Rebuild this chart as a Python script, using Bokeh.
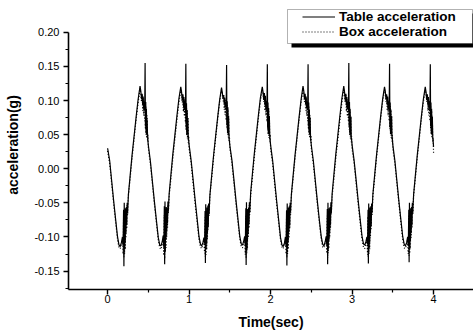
from bokeh.plotting import figure
from bokeh.models import Range1d, FixedTicker, Legend, LegendItem, BoxAnnotation
from bokeh.embed import file_html
from bokeh.resources import INLINE

# ---------------- data ----------------
time_s = [
    0.000, 0.025, 0.050, 0.075, 0.100, 0.122, 0.140, 0.155, 0.170, 0.182, 0.190, 0.196, 0.200, 0.204, 0.208, 0.212,
    0.216, 0.220, 0.225, 0.230, 0.235, 0.240, 0.245, 0.255, 0.275, 0.300, 0.325, 0.350, 0.375, 0.398, 0.408, 0.416,
    0.424, 0.430, 0.436, 0.442, 0.448, 0.455, 0.460, 0.464, 0.468, 0.472, 0.476, 0.480, 0.485, 0.490, 0.495,
    0.500, 0.525, 0.550, 0.575, 0.600, 0.622, 0.640, 0.655, 0.670, 0.682, 0.690, 0.696, 0.700, 0.704, 0.708, 0.712,
    0.716, 0.720, 0.725, 0.730, 0.735, 0.740, 0.745, 0.755, 0.775, 0.800, 0.825, 0.850, 0.875, 0.898, 0.908, 0.916,
    0.924, 0.930, 0.936, 0.942, 0.948, 0.955, 0.960, 0.964, 0.968, 0.972, 0.976, 0.980, 0.985, 0.990, 0.995,
    1.000, 1.025, 1.050, 1.075, 1.100, 1.122, 1.140, 1.155, 1.170, 1.182, 1.190, 1.196, 1.200, 1.204, 1.208, 1.212,
    1.216, 1.220, 1.225, 1.230, 1.235, 1.240, 1.245, 1.255, 1.275, 1.300, 1.325, 1.350, 1.375, 1.398, 1.408, 1.416,
    1.424, 1.430, 1.436, 1.442, 1.448, 1.455, 1.460, 1.464, 1.468, 1.472, 1.476, 1.480, 1.485, 1.490, 1.495,
    1.500, 1.525, 1.550, 1.575, 1.600, 1.622, 1.640, 1.655, 1.670, 1.682, 1.690, 1.696, 1.700, 1.704, 1.708, 1.712,
    1.716, 1.720, 1.725, 1.730, 1.735, 1.740, 1.745, 1.755, 1.775, 1.800, 1.825, 1.850, 1.875, 1.898, 1.908, 1.916,
    1.924, 1.930, 1.936, 1.942, 1.948, 1.955, 1.960, 1.964, 1.968, 1.972, 1.976, 1.980, 1.985, 1.990, 1.995,
    2.000, 2.025, 2.050, 2.075, 2.100, 2.122, 2.140, 2.155, 2.170, 2.182, 2.190, 2.196, 2.200, 2.204, 2.208, 2.212,
    2.216, 2.220, 2.225, 2.230, 2.235, 2.240, 2.245, 2.255, 2.275, 2.300, 2.325, 2.350, 2.375, 2.398, 2.408, 2.416,
    2.424, 2.430, 2.436, 2.442, 2.448, 2.455, 2.460, 2.464, 2.468, 2.472, 2.476, 2.480, 2.485, 2.490, 2.495,
    2.500, 2.525, 2.550, 2.575, 2.600, 2.622, 2.640, 2.655, 2.670, 2.682, 2.690, 2.696, 2.700, 2.704, 2.708, 2.712,
    2.716, 2.720, 2.725, 2.730, 2.735, 2.740, 2.745, 2.755, 2.775, 2.800, 2.825, 2.850, 2.875, 2.898, 2.908, 2.916,
    2.924, 2.930, 2.936, 2.942, 2.948, 2.955, 2.960, 2.964, 2.968, 2.972, 2.976, 2.980, 2.985, 2.990, 2.995,
    3.000, 3.025, 3.050, 3.075, 3.100, 3.122, 3.140, 3.155, 3.170, 3.182, 3.190, 3.196, 3.200, 3.204, 3.208, 3.212,
    3.216, 3.220, 3.225, 3.230, 3.235, 3.240, 3.245, 3.255, 3.275, 3.300, 3.325, 3.350, 3.375, 3.398, 3.408, 3.416,
    3.424, 3.430, 3.436, 3.442, 3.448, 3.455, 3.460, 3.464, 3.468, 3.472, 3.476, 3.480, 3.485, 3.490, 3.495,
    3.500, 3.525, 3.550, 3.575, 3.600, 3.622, 3.640, 3.655, 3.670, 3.682, 3.690, 3.696, 3.700, 3.704, 3.708, 3.712,
    3.716, 3.720, 3.725, 3.730, 3.735, 3.740, 3.745, 3.755, 3.775, 3.800, 3.825, 3.850, 3.875, 3.898, 3.908, 3.916,
    3.924, 3.930, 3.936, 3.942, 3.948, 3.955, 3.960, 3.964, 3.968, 3.972, 3.976, 3.980, 3.985, 3.990, 3.995,
    4.000,
]

table_acc = [
    0.030, 0.012, -0.018, -0.048, -0.076, -0.100, -0.112, -0.114, -0.108, -0.100, -0.112, -0.060, -0.143, -0.050, -0.118, -0.062,
    -0.108, -0.058, -0.095, -0.056, -0.082, -0.050, -0.065, -0.038, -0.012, 0.020, 0.048, 0.076, 0.102, 0.121, 0.113, 0.102,
    0.110, 0.094, 0.106, 0.088, 0.098, 0.085, 0.155, 0.062, 0.098, 0.052, 0.088, 0.050, 0.072, 0.048, 0.040,
    0.034, 0.011, -0.019, -0.049, -0.077, -0.101, -0.112, -0.113, -0.107, -0.098, -0.115, -0.055, -0.140, -0.048, -0.120, -0.060,
    -0.104, -0.056, -0.092, -0.058, -0.080, -0.048, -0.062, -0.037, -0.011, 0.021, 0.049, 0.077, 0.103, 0.120, 0.112, 0.100,
    0.109, 0.092, 0.105, 0.086, 0.100, 0.082, 0.154, 0.060, 0.096, 0.050, 0.086, 0.052, 0.074, 0.047, 0.041,
    0.035, 0.012, -0.017, -0.047, -0.075, -0.100, -0.111, -0.113, -0.108, -0.101, -0.110, -0.062, -0.138, -0.052, -0.116, -0.064,
    -0.110, -0.057, -0.094, -0.054, -0.084, -0.051, -0.066, -0.039, -0.013, 0.019, 0.047, 0.075, 0.101, 0.119, 0.111, 0.103,
    0.108, 0.096, 0.104, 0.090, 0.097, 0.087, 0.152, 0.064, 0.099, 0.054, 0.090, 0.049, 0.076, 0.045, 0.040,
    0.034, 0.013, -0.016, -0.046, -0.074, -0.099, -0.110, -0.112, -0.106, -0.099, -0.113, -0.058, -0.141, -0.049, -0.119, -0.061,
    -0.106, -0.059, -0.096, -0.057, -0.081, -0.049, -0.064, -0.036, -0.010, 0.022, 0.050, 0.078, 0.104, 0.120, 0.112, 0.101,
    0.111, 0.093, 0.107, 0.087, 0.099, 0.084, 0.153, 0.061, 0.097, 0.051, 0.089, 0.051, 0.077, 0.046, 0.041,
    0.035, 0.012, -0.018, -0.048, -0.076, -0.101, -0.112, -0.114, -0.109, -0.100, -0.114, -0.061, -0.142, -0.051, -0.117, -0.063,
    -0.107, -0.057, -0.093, -0.055, -0.083, -0.050, -0.063, -0.038, -0.012, 0.020, 0.048, 0.076, 0.102, 0.121, 0.113, 0.102,
    0.110, 0.095, 0.106, 0.089, 0.098, 0.086, 0.153, 0.063, 0.097, 0.053, 0.087, 0.050, 0.075, 0.047, 0.040,
    0.034, 0.011, -0.019, -0.049, -0.077, -0.100, -0.111, -0.113, -0.107, -0.099, -0.112, -0.059, -0.140, -0.050, -0.118, -0.062,
    -0.105, -0.058, -0.094, -0.056, -0.082, -0.049, -0.065, -0.037, -0.011, 0.021, 0.049, 0.077, 0.103, 0.121, 0.112, 0.100,
    0.110, 0.093, 0.105, 0.088, 0.099, 0.085, 0.155, 0.062, 0.098, 0.052, 0.088, 0.050, 0.076, 0.046, 0.041,
    0.035, 0.012, -0.017, -0.047, -0.075, -0.099, -0.110, -0.112, -0.107, -0.100, -0.111, -0.060, -0.139, -0.051, -0.116, -0.063,
    -0.108, -0.057, -0.095, -0.055, -0.083, -0.051, -0.064, -0.038, -0.012, 0.020, 0.048, 0.076, 0.102, 0.120, 0.113, 0.102,
    0.109, 0.094, 0.106, 0.087, 0.098, 0.086, 0.154, 0.061, 0.097, 0.052, 0.087, 0.051, 0.077, 0.047, 0.042,
    0.035, 0.012, -0.018, -0.048, -0.076, -0.100, -0.111, -0.113, -0.108, -0.100, -0.113, -0.060, -0.137, -0.050, -0.117, -0.062,
    -0.106, -0.058, -0.094, -0.056, -0.082, -0.050, -0.064, -0.038, -0.012, 0.020, 0.048, 0.076, 0.102, 0.120, 0.112, 0.101,
    0.109, 0.094, 0.105, 0.088, 0.099, 0.085, 0.153, 0.062, 0.097, 0.052, 0.088, 0.050, 0.076, 0.046, 0.040,
    0.032,
]

box_acc = [
    0.026, 0.008, -0.022, -0.052, -0.080, -0.104, -0.116, -0.117, -0.110, -0.104, -0.125, -0.070, -0.130, -0.065, -0.125, -0.070,
    -0.118, -0.062, -0.102, -0.060, -0.088, -0.052, -0.068, -0.040, -0.016, 0.016, 0.044, 0.072, 0.098, 0.116, 0.110, 0.098,
    0.108, 0.085, 0.104, 0.078, 0.100, 0.070, 0.096, 0.058, 0.092, 0.050, 0.086, 0.045, 0.078, 0.040, 0.050,
    0.030, 0.007, -0.023, -0.053, -0.081, -0.105, -0.116, -0.118, -0.111, -0.103, -0.127, -0.068, -0.132, -0.066, -0.123, -0.072,
    -0.116, -0.060, -0.100, -0.062, -0.086, -0.053, -0.066, -0.041, -0.017, 0.015, 0.043, 0.071, 0.097, 0.115, 0.109, 0.097,
    0.107, 0.084, 0.103, 0.077, 0.099, 0.068, 0.095, 0.056, 0.090, 0.049, 0.085, 0.044, 0.076, 0.038, 0.048,
    0.029, 0.008, -0.022, -0.052, -0.080, -0.104, -0.115, -0.117, -0.110, -0.104, -0.124, -0.071, -0.129, -0.064, -0.126, -0.069,
    -0.119, -0.063, -0.103, -0.059, -0.089, -0.051, -0.069, -0.040, -0.016, 0.016, 0.044, 0.072, 0.098, 0.116, 0.110, 0.099,
    0.108, 0.086, 0.104, 0.079, 0.101, 0.071, 0.097, 0.059, 0.093, 0.051, 0.087, 0.046, 0.079, 0.041, 0.049,
    0.030, 0.009, -0.021, -0.051, -0.079, -0.103, -0.114, -0.116, -0.109, -0.103, -0.126, -0.069, -0.131, -0.066, -0.124, -0.071,
    -0.117, -0.061, -0.101, -0.061, -0.087, -0.052, -0.067, -0.039, -0.015, 0.017, 0.045, 0.073, 0.099, 0.116, 0.110, 0.098,
    0.108, 0.085, 0.103, 0.078, 0.100, 0.069, 0.096, 0.057, 0.091, 0.050, 0.086, 0.045, 0.078, 0.040, 0.050,
    0.029, 0.008, -0.022, -0.052, -0.080, -0.104, -0.116, -0.117, -0.110, -0.104, -0.125, -0.070, -0.130, -0.065, -0.125, -0.070,
    -0.118, -0.062, -0.102, -0.060, -0.088, -0.052, -0.068, -0.040, -0.016, 0.016, 0.044, 0.072, 0.098, 0.115, 0.109, 0.098,
    0.107, 0.085, 0.104, 0.078, 0.100, 0.070, 0.096, 0.058, 0.092, 0.050, 0.086, 0.045, 0.078, 0.040, 0.049,
    0.030, 0.007, -0.023, -0.053, -0.081, -0.104, -0.115, -0.116, -0.109, -0.103, -0.124, -0.069, -0.131, -0.064, -0.124, -0.071,
    -0.117, -0.061, -0.101, -0.061, -0.087, -0.053, -0.067, -0.041, -0.017, 0.015, 0.043, 0.071, 0.097, 0.116, 0.110, 0.097,
    0.108, 0.084, 0.103, 0.077, 0.099, 0.069, 0.095, 0.057, 0.091, 0.049, 0.085, 0.044, 0.077, 0.039, 0.048,
    0.029, 0.008, -0.022, -0.052, -0.080, -0.103, -0.115, -0.117, -0.110, -0.104, -0.126, -0.070, -0.130, -0.065, -0.125, -0.070,
    -0.118, -0.062, -0.102, -0.060, -0.088, -0.052, -0.068, -0.040, -0.016, 0.016, 0.044, 0.072, 0.098, 0.116, 0.110, 0.098,
    0.108, 0.085, 0.104, 0.078, 0.100, 0.070, 0.096, 0.058, 0.092, 0.050, 0.086, 0.045, 0.078, 0.040, 0.049,
    0.030, 0.008, -0.022, -0.052, -0.080, -0.104, -0.116, -0.117, -0.110, -0.104, -0.125, -0.069, -0.129, -0.065, -0.124, -0.070,
    -0.117, -0.062, -0.101, -0.060, -0.087, -0.052, -0.067, -0.040, -0.016, 0.016, 0.044, 0.072, 0.098, 0.115, 0.110, 0.098,
    0.107, 0.085, 0.103, 0.078, 0.099, 0.070, 0.095, 0.058, 0.091, 0.050, 0.085, 0.045, 0.077, 0.040, 0.045,
    0.023,
]

series_names = ["Table acceleration", "Box acceleration"]

x_ticks = [0, 1, 2, 3, 4]
x_minor_ticks = [-0.5, 0.5, 1.5, 2.5, 3.5, 4.5]
x_tick_labels = ["0", "1", "2", "3", "4"]
y_ticks = [-0.15, -0.10, -0.05, 0.00, 0.05, 0.10, 0.15, 0.20]
y_minor_ticks = [-0.175, -0.125, -0.075, -0.025, 0.025, 0.075, 0.125, 0.175]
y_tick_labels = ["-0.15", "-0.10", "-0.05", "0.00", "0.05", "0.10", "0.15", "0.20"]
y_axis_top = 0.20
y_axis_bottom = -0.177

x_title = "Time(sec)"
y_title = "acceleration(g)"

# ---------------- figure ----------------
FONT = "Liberation Sans"

p = figure(width=473, height=332, output_backend="svg", toolbar_location=None,
           x_range=Range1d(-0.48, 4.49), y_range=Range1d(y_axis_bottom, 0.2466),
           min_border_left=68, min_border_right=0, min_border_top=0, min_border_bottom=41)
p.outline_line_color = None
p.grid.visible = False
p.background_fill_color = "white"
p.border_fill_color = "white"

p.xaxis.ticker = FixedTicker(ticks=x_ticks, minor_ticks=x_minor_ticks)
p.yaxis.ticker = FixedTicker(ticks=y_ticks, minor_ticks=y_minor_ticks)
p.xaxis.major_label_overrides = {t: s for t, s in zip(x_ticks, x_tick_labels)}
p.yaxis.major_label_overrides = {t: s for t, s in zip(y_ticks, y_tick_labels)}
p.yaxis.bounds = (y_axis_bottom, y_axis_top)
p.xaxis.axis_label = x_title
p.yaxis.axis_label = y_title

for ax in (p.xaxis[0], p.yaxis[0]):
    ax.axis_line_color = "black"
    ax.axis_line_width = 1.6
    ax.major_tick_line_color = "black"
    ax.major_tick_line_width = 1.4
    ax.minor_tick_line_color = "black"
    ax.minor_tick_line_width = 1.2
    ax.major_tick_in = 0
    ax.major_tick_out = 5
    ax.minor_tick_in = 0
    ax.minor_tick_out = 3
    ax.major_label_text_font = FONT
    ax.major_label_text_font_size = "11px"
    ax.major_label_text_color = "black"
    ax.major_label_text_line_height = 1.0
    ax.axis_label_text_font = FONT
    ax.axis_label_text_font_size = "14px"
    ax.axis_label_text_font_style = "bold"
    ax.axis_label_text_color = "black"
    ax.axis_label_text_line_height = 1.0

p.xaxis.major_label_standoff = 0
p.xaxis.axis_label_standoff = 8
p.yaxis.major_label_standoff = 4
p.yaxis.axis_label_standoff = 10

r_box = p.line(time_s, box_acc, line_color="black", line_width=1.2, line_dash="1 2")
r_table = p.line(time_s, table_acc, line_color="black", line_width=1.2)

# legend frame with drop shadow
shadow = BoxAnnotation(left=291, right=476, top=13, bottom=47,
                       left_units="canvas", right_units="canvas",
                       top_units="canvas", bottom_units="canvas",
                       fill_color="black", fill_alpha=1.0, line_color=None)
frame_box = BoxAnnotation(left=287, right=472, top=9, bottom=43,
                          left_units="canvas", right_units="canvas",
                          top_units="canvas", bottom_units="canvas",
                          fill_color="white", fill_alpha=1.0,
                          line_color="black", line_width=1)
p.add_layout(shadow)
p.add_layout(frame_box)

legend = Legend(items=[LegendItem(label=series_names[0], renderers=[r_table]),
                       LegendItem(label=series_names[1], renderers=[r_box])],
                location=(234, 250), border_line_alpha=0, background_fill_alpha=0,
                padding=0, spacing=0, margin=0, glyph_width=33, glyph_height=15,
                label_height=15, label_standoff=4,
                label_text_font=FONT, label_text_font_style="bold",
                label_text_font_size="13.5px", label_text_color="black")
p.add_layout(legend)

open("out.html", "w").write(file_html(p, INLINE))
